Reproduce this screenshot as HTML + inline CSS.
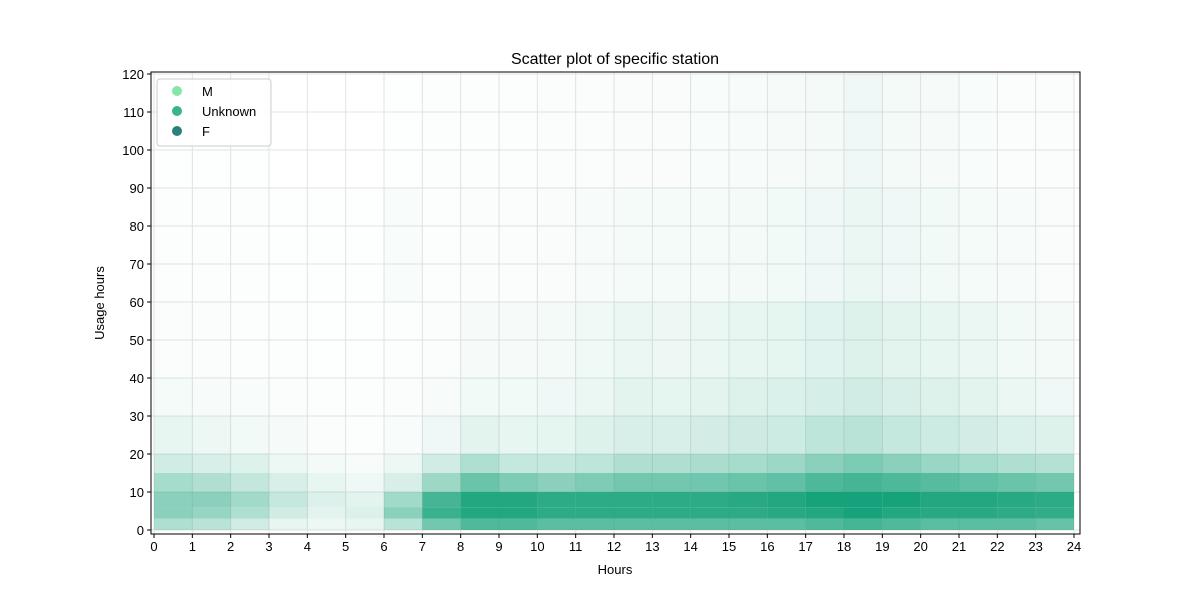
<!DOCTYPE html>
<html><head><meta charset="utf-8"><style>
body{margin:0;background:#fff}
svg{display:block;font-family:"Liberation Sans","DejaVu Sans",sans-serif}
</style></head><body>
<svg id="chart" width="1200" height="600" viewBox="0 0 1200 600" xmlns="http://www.w3.org/2000/svg">
<rect width="1200" height="600" fill="#fff"/>
<g id="grid"></g>
<g id="marks"></g>
<g id="axes"></g>
<text x="615" y="64" text-anchor="middle" font-size="16" fill="#000">Scatter plot of specific station</text>
<text x="615" y="574" text-anchor="middle" font-size="13" fill="#000">Hours</text>
<text transform="translate(104,303) rotate(-90)" text-anchor="middle" font-size="13" fill="#000">Usage hours</text>
<g>
<rect x="157" y="79" width="114" height="67" rx="3" fill="#fff" fill-opacity="0.85" stroke="#ccc"/>
<circle cx="177" cy="91" r="5" fill="#86e5a9"/>
<text x="202" y="96" font-size="13">M</text>
<circle cx="177" cy="111" r="5" fill="#3cb48a"/>
<text x="202" y="116" font-size="13">Unknown</text>
<circle cx="177" cy="131" r="5" fill="#2e7f7a"/>
<text x="202" y="136" font-size="13">F</text>
</g>
</svg>
<script>
const hours = [0,1,2,3,4,5,6,7,8,9,10,11,12,13,14,15,16,17,18,19,20,21,22,23];
const valueBinLow  = [0,3,6,10,15,20,30,40,60,90];
const valueBinHigh = [3,6,10,15,20,30,40,60,90,120];
const density = [
[.35,.5,.5,.38,.2,.1,.045,.025,.015,.008],
[.3,.45,.5,.34,.17,.08,.035,.02,.01,.007],
[.2,.35,.4,.26,.14,.06,.03,.015,.01,.007],
[.1,.2,.25,.17,.08,.04,.02,.012,.007,.004],
[.08,.12,.15,.1,.05,.025,.013,.008,.007,.004],
[.1,.15,.12,.07,.035,.015,.01,.008,.007,.004],
[.3,.5,.4,.17,.08,.03,.018,.016,.03,.007],
[.6,.85,.8,.42,.2,.07,.035,.024,.014,.01],
[.75,.95,.95,.64,.35,.12,.055,.04,.02,.014],
[.75,.95,.95,.55,.25,.1,.055,.04,.025,.017],
[.7,.9,.9,.5,.25,.11,.07,.05,.028,.02],
[.7,.9,.9,.55,.28,.14,.09,.065,.035,.025],
[.7,.9,.9,.6,.35,.17,.12,.09,.042,.028],
[.7,.9,.9,.6,.35,.17,.11,.08,.042,.028],
[.7,.9,.9,.61,.36,.19,.12,.09,.045,.03],
[.7,.9,.92,.64,.38,.21,.14,.1,.05,.035],
[.7,.92,.95,.68,.42,.22,.16,.11,.056,.04],
[.75,.95,1,.76,.5,.28,.18,.13,.07,.05],
[.8,1,1,.8,.56,.3,.2,.14,.09,.07],
[.75,.95,1,.76,.5,.25,.17,.12,.07,.05],
[.7,.92,.95,.72,.44,.22,.14,.1,.056,.04],
[.7,.92,.95,.68,.38,.19,.12,.09,.042,.03],
[.7,.9,.92,.64,.35,.16,.09,.06,.035,.025],
[.65,.88,.9,.6,.32,.14,.07,.05,.028,.018]];
const xTicks = [0,1,2,3,4,5,6,7,8,9,10,11,12,13,14,15,16,17,18,19,20,21,22,23,24];
const yTicks = [0,10,20,30,40,50,60,70,80,90,100,110,120];

const NS="http://www.w3.org/2000/svg";
const L=151,R=1080,T=72,B=534;
const x=h=>154+h*(1074-154)/24;
const y=v=>530-v*(530-74)/120;
function mk(tag,attrs,parent){const e=document.createElementNS(NS,tag);for(const k in attrs)e.setAttribute(k,attrs[k]);parent.appendChild(e);return e;}
const grid=document.getElementById('grid'),marks=document.getElementById('marks'),axes=document.getElementById('axes');
xTicks.forEach(t=>{
  const g=mk('line',{x1:x(t),x2:x(t),y1:T,y2:B,stroke:'#e3e3e3','stroke-width':1},grid);
  
  
  mk('line',{x1:x(t),x2:x(t),y1:B,y2:B+4,stroke:'#000'},axes);
  const tx=mk('text',{x:x(t),y:B+17,'text-anchor':'middle','font-size':13},axes);
  tx.textContent=t;
  
  
});
yTicks.forEach(t=>{
  const g=mk('line',{x1:L,x2:R,y1:y(t),y2:y(t),stroke:'#e3e3e3','stroke-width':1},grid);
  
  
  mk('line',{x1:L-4,x2:L,y1:y(t),y2:y(t),stroke:'#000'},axes);
  const tx=mk('text',{x:L-7,y:y(t)+5,'text-anchor':'end','font-size':13},axes);
  tx.textContent=t;
  
  
});
hours.forEach((h,i)=>{
  valueBinLow.forEach((lo,j)=>{
    const hi=valueBinHigh[j];
    const yt=Math.max(y(hi),T), yb=Math.min(y(lo),B);
    const c=mk('rect',{x:x(h),y:yt,width:x(h+1)-x(h),height:yb-yt,fill:'#16a27a','fill-opacity':density[i][j]},marks);
    
    
  });
});
const frame=mk('rect',{x:L,y:T,width:R-L,height:B-T,fill:'none',stroke:'#000','stroke-width':1},axes);


</script>
</body></html>
